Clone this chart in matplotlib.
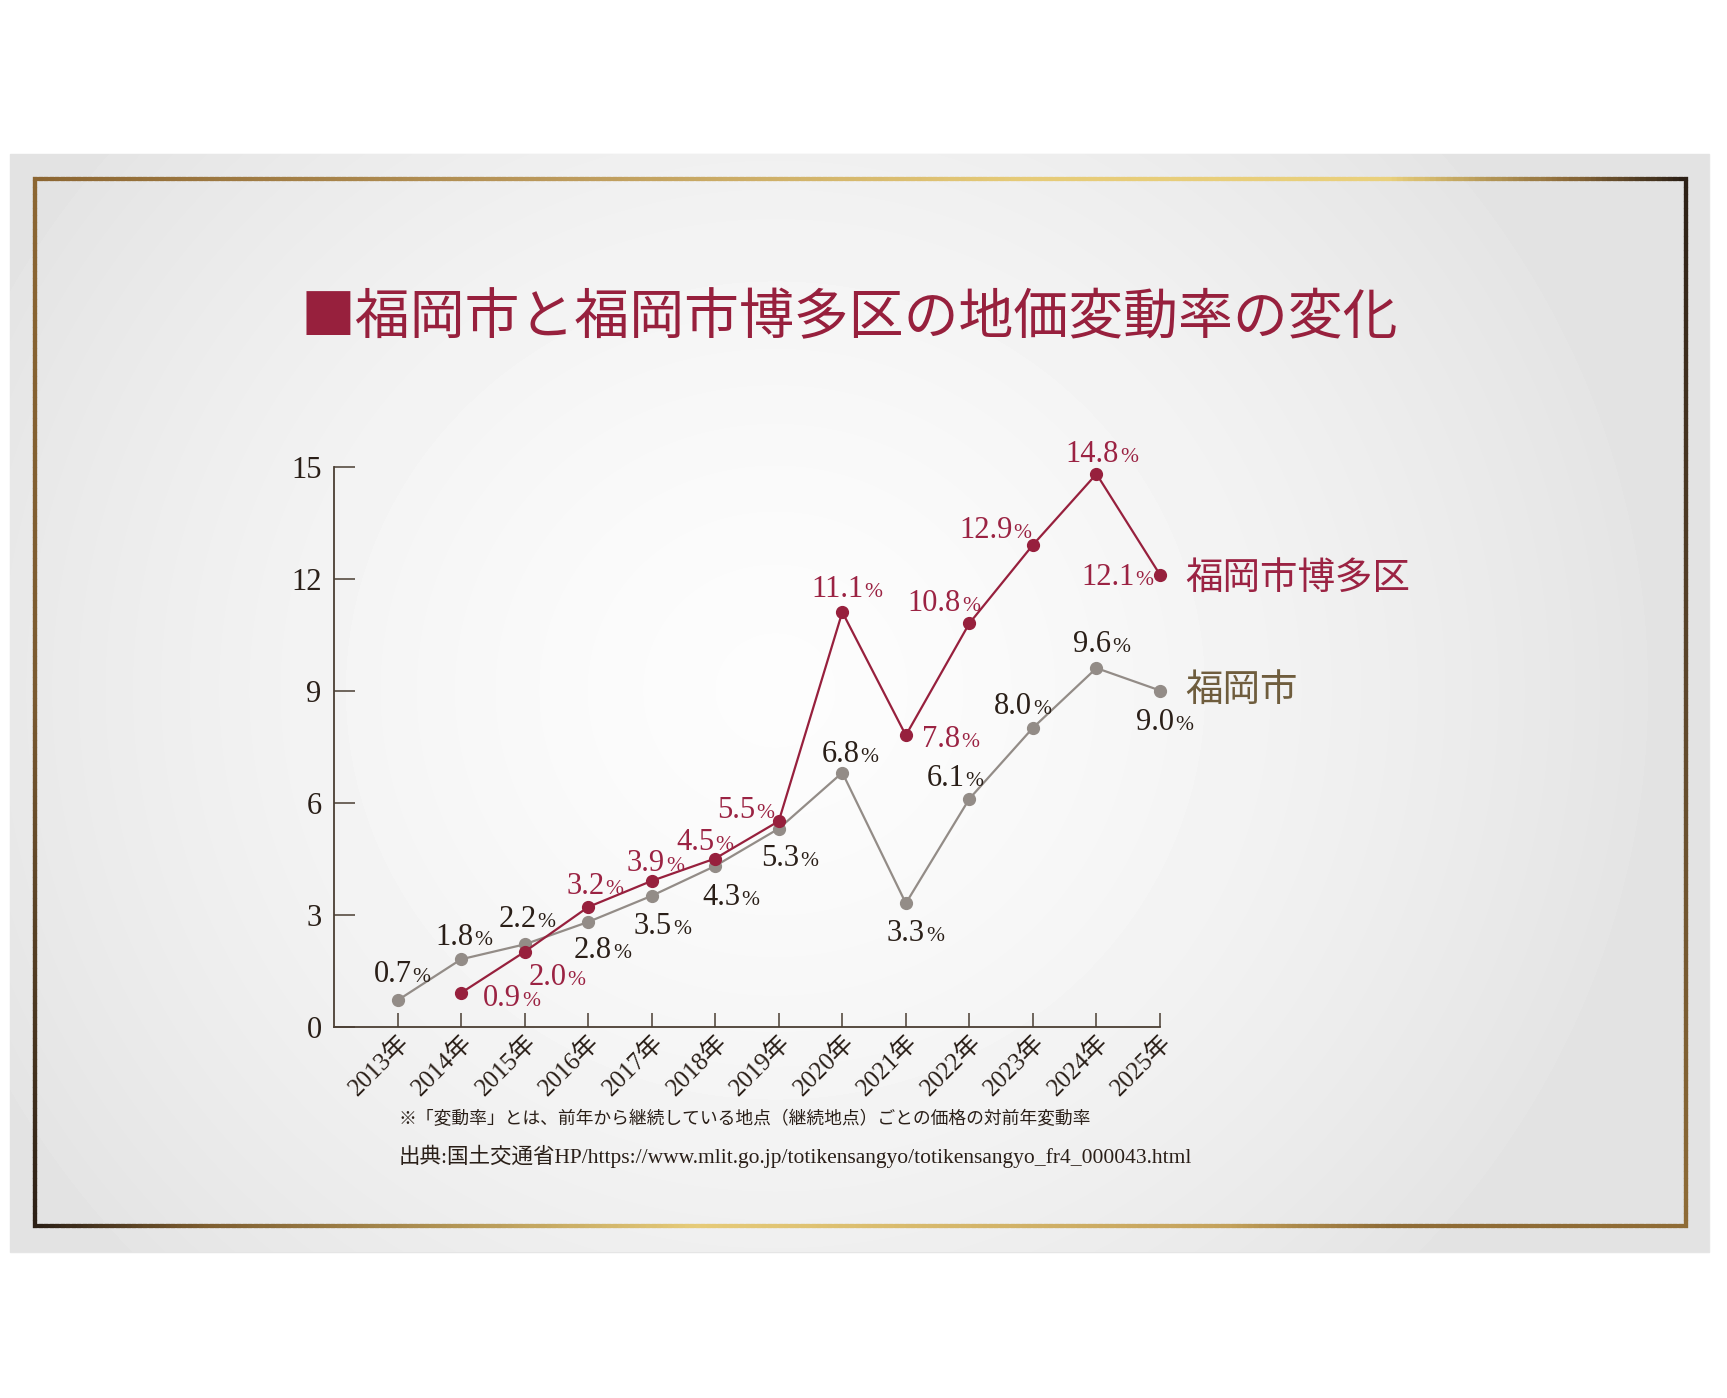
"""Fukuoka city vs Hakata ward: year-on-year land price change."""
import matplotlib
matplotlib.use("Agg")
import matplotlib.pyplot as plt
import numpy as np
from matplotlib.collections import LineCollection
from matplotlib.colors import LinearSegmentedColormap
from matplotlib.patches import Rectangle

YEARS = [2013, 2014, 2015, 2016, 2017, 2018, 2019, 2020, 2021, 2022, 2023, 2024, 2025]
YEAR_LABELS = [f"{y}年" for y in YEARS]
FUKUOKA = [0.7, 1.8, 2.2, 2.8, 3.5, 4.3, 5.3, 6.8, 3.3, 6.1, 8.0, 9.6, 9.0]
HAKATA_YEARS = YEARS[1:]
HAKATA = [0.9, 2.0, 3.2, 3.9, 4.5, 5.5, 11.1, 7.8, 10.8, 12.9, 14.8, 12.1]
Y_TICKS = [0, 3, 6, 9, 12, 15]

TITLE = "■福岡市と福岡市博多区の地価変動率の変化"
NAME_HAKATA = "福岡市博多区"
NAME_FUKUOKA = "福岡市"
NOTE = "※「変動率」とは、前年から継続している地点（継続地点）ごとの価格の対前年変動率"
SOURCE = "出典:国土交通省HP/https://www.mlit.go.jp/totikensangyo/totikensangyo_fr4_000043.html"

# label placement (pixels from the point to the centre/baseline of the number)
FUKUOKA_OFFS = [(-5, 18), (-7, 14), (-7, 17), (5, -36), (1, -38), (6, -39), (1, -37),
                (-2, 11), (0, -38), (-24, 13), (-20, 14), (-4, 16), (-5, -40)]
HAKATA_OFFS = [(41, -13), (23, -33), (-3, 13), (-6, 10), (-20, 8), (-43, 3), (-5, 15),
               (35, -12), (-35, 12), (-47, 7), (-4, 12), (-52, -10)]

RED = "#97203d"
RED_TXT = "#9b2343"
GREY = "#938c87"
DARK = "#2a1f18"
GOLD_TXT = "#6f5d3d"
SPINE = "#4a3e33"
SERIF = ["Liberation Serif", "Noto Sans CJK JP"]
JP = ["Noto Sans CJK JP", "DejaVu Sans"]

W, H = 1727, 1398


def edge(ax, p0, p1, stops, lw=3.0):
    cmap = LinearSegmentedColormap.from_list("e", stops)
    t = np.linspace(0, 1, 300)
    pts = np.column_stack([p0[0] + (p1[0] - p0[0]) * t, p0[1] + (p1[1] - p0[1]) * t])
    segs = np.stack([pts[:-1], pts[1:]], axis=1)
    ax.add_collection(LineCollection(segs, colors=cmap(t[:-1]), linewidths=lw,
                                     capstyle="projecting", zorder=3))


def label(ax, x, y, val, off, color):
    t = ax.annotate(f"{val:.1f}", xy=(x, y), xytext=off, textcoords="offset pixels",
                    ha="center", va="baseline", fontsize=22, color=color,
                    family=SERIF, zorder=6)
    ax.annotate("%", xy=(1, 0), xycoords=t, xytext=(1, 2), textcoords="offset pixels",
                ha="left", va="bottom", fontsize=15.5, color=color, family=SERIF, zorder=6)


def main():
    fig = plt.figure(figsize=(W / 100, H / 100), dpi=100, facecolor="white")

    # background panel, gradient and gold frame (pixel coordinates)
    bg = fig.add_axes([0, 0, 1, 1], zorder=-10)
    bg.axis("off")
    px0, px1, py0, py1 = 10, 1709, 154, 1252
    bg.add_patch(Rectangle((px0, py0), px1 - px0, py1 - py0, color="#e5e5e5", zorder=0))
    yy, xx = np.mgrid[py0:py1, px0:px1]
    r = np.hypot(xx - 775, (yy - 690) * 1.05)
    shade = 0.99 - 0.10 * np.clip(r / 900, 0, 1) ** 1.5
    bg.imshow(shade, cmap="gray", vmin=0, vmax=1, extent=(px0, px1, py1, py0),
              aspect="auto", interpolation="bilinear", zorder=1)
    fx0, fx1, fy0, fy1 = 35, 1686.5, 178.5, 1225.8
    edge(bg, (fx0, fy0), (fx1, fy0), [(0, "#8c6632"), (0.3, "#b9975a"), (0.6, "#e6cb78"),
                                      (0.82, "#e9d07c"), (0.93, "#8b6a3a"), (1, "#2c2016")])
    edge(bg, (fx1, fy0), (fx1, fy1), [(0, "#2c2016"), (0.5, "#5e472b"), (1, "#8f6c36")])
    edge(bg, (fx0, fy1), (fx1, fy1), [(0, "#2c2016"), (0.1, "#7d5d30"), (0.4, "#e6cb78"),
                                      (0.72, "#c4a25c"), (0.82, "#8f6c36"), (1, "#8f6c36")])
    edge(bg, (fx0, fy0), (fx0, fy1), [(0, "#8c6632"), (0.5, "#7a5a30"), (1, "#2c2016")])
    bg.set_xlim(0, W)
    bg.set_ylim(H, 0)

    bg.text(849, 318, TITLE, ha="center", va="center", fontsize=39.5, color=RED, family=JP)
    bg.text(399, 1119, NOTE, ha="left", va="center", fontsize=12.8, color=DARK, family=JP)
    bg.text(399, 1156, SOURCE, ha="left", va="center", fontsize=15.5, color=DARK, family=SERIF)

    # chart
    left, right, bottom, top = 334, 1160, 1026.5, 466.5
    ax = fig.add_axes([left / W, 1 - bottom / H, (right - left) / W, (bottom - top) / H])
    ax.patch.set_alpha(0)
    ax.plot(YEARS, FUKUOKA, color=GREY, lw=1.6, marker="o", ms=8.5, zorder=4, clip_on=False)
    ax.plot(HAKATA_YEARS, HAKATA, color=RED, lw=1.6, marker="o", ms=8.5, zorder=5, clip_on=False)
    for x, v, off in zip(YEARS, FUKUOKA, FUKUOKA_OFFS):
        label(ax, x, v, v, off, DARK)
    for x, v, off in zip(HAKATA_YEARS, HAKATA, HAKATA_OFFS):
        label(ax, x, v, v, off, RED_TXT)

    ax.annotate(NAME_HAKATA, xy=(HAKATA_YEARS[-1], HAKATA[-1]), xytext=(25, -4),
                textcoords="offset pixels", ha="left", va="center", fontsize=27,
                color=RED_TXT, family=JP)
    ax.annotate(NAME_FUKUOKA, xy=(YEARS[-1], FUKUOKA[-1]), xytext=(25, 0),
                textcoords="offset pixels", ha="left", va="center", fontsize=27,
                color=GOLD_TXT, family=JP)

    ax.set_xlim(2012, 2025)
    ax.set_ylim(0, 15)
    ax.set_yticks(Y_TICKS)
    ax.set_xticks(YEARS)
    ax.set_xticklabels(YEAR_LABELS, rotation=45, ha="right", va="top",
                       rotation_mode="anchor", family=SERIF, fontsize=18, color=DARK)
    for lab in ax.get_yticklabels():
        lab.set_family(SERIF)
        lab.set_fontsize(22)
        lab.set_color(DARK)
    ax.tick_params(axis="y", direction="in", length=15, width=1.1, color=SPINE, pad=9)
    ax.tick_params(axis="x", direction="in", length=10, width=1.1, color=SPINE, pad=3)
    for side in ("top", "right"):
        ax.spines[side].set_visible(False)
    for side in ("left", "bottom"):
        ax.spines[side].set_color(SPINE)
        ax.spines[side].set_linewidth(1.3)

    fig.savefig("out.png", dpi=100, facecolor="white")


if __name__ == "__main__":
    main()
